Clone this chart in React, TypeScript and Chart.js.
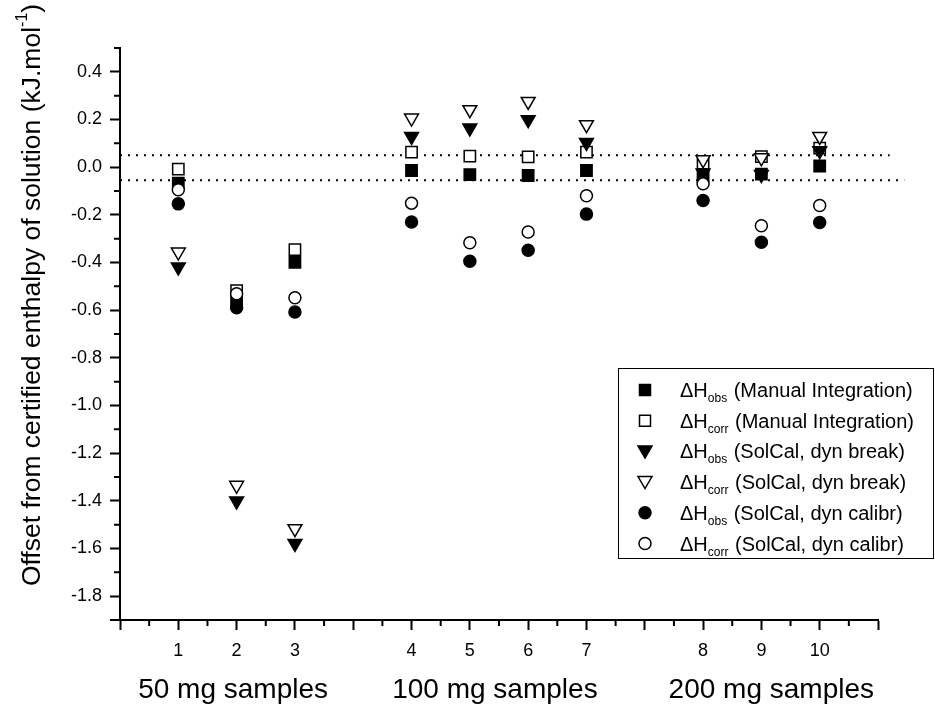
import React, { useEffect, useRef } from 'react';
import { Chart, registerables } from 'chart.js';

Chart.register(...registerables);

// ---------- data ----------
const SAMPLE_NUMBERS = ['1', '2', '3', '4', '5', '6', '7', '8', '9', '10'];
const SAMPLE_POSITIONS = [1, 2, 3, 5, 6, 7, 8, 10, 11, 12];
const GROUP_LABELS = ['50 mg samples', '100 mg samples', '200 mg samples'];
const GROUP_CENTERS = [1.94, 6.43, 11.17];
const Y_TICKS = [-1.8, -1.6, -1.4, -1.2, -1.0, -0.8, -0.6, -0.4, -0.2, 0.0, 0.2, 0.4];
const X_MIN = 0;
const X_MAX = 13;
const Y_MIN = -1.9;
const Y_MAX = 0.5;
const LIMIT_UPPER = 0.05;
const LIMIT_LOWER = -0.055;
const LIMIT_UPPER_END = 13.2;
const LIMIT_LOWER_END = 13.45;

const OBS_MANUAL = [-0.067, -0.569, -0.399, -0.014, -0.031, -0.035, -0.014, -0.039, -0.029, 0.005];
const CORR_MANUAL = [-0.008, -0.518, -0.346, 0.063, 0.046, 0.043, 0.063, 0.017, 0.044, 0.08];
const OBS_BREAK = [-0.419, -1.401, -1.579, 0.129, 0.164, 0.199, 0.104, -0.024, -0.031, 0.069];
const CORR_BREAK = [-0.356, -1.335, -1.517, 0.206, 0.241, 0.276, 0.178, 0.031, 0.039, 0.129];
const OBS_CALIBR = [-0.154, -0.59, -0.608, -0.23, -0.395, -0.349, -0.197, -0.14, -0.315, -0.232];
const CORR_CALIBR = [-0.095, -0.531, -0.548, -0.151, -0.317, -0.272, -0.12, -0.07, -0.246, -0.161];

const SERIES_SUBS = ['obs', 'corr', 'obs', 'corr', 'obs', 'corr'];
const SERIES_NAMES = [
  '(Manual Integration)',
  '(Manual Integration)',
  '(SolCal, dyn break)',
  '(SolCal, dyn break)',
  '(SolCal, dyn calibr)',
  '(SolCal, dyn calibr)',
];
const SERIES_VALUES = [OBS_MANUAL, CORR_MANUAL, OBS_BREAK, CORR_BREAK, OBS_CALIBR, CORR_CALIBR];
const SERIES_SHAPES = ['rect', 'rect', 'triangle', 'triangle', 'circle', 'circle'];
const SERIES_FILLED = [true, false, true, false, true, false];

const Y_TITLE_MAIN = 'Offset from certified enthalpy of solution (kJ.mol';
const Y_TITLE_SUP = '-1';
const Y_TITLE_END = ')';

const FONT = '"Liberation Sans", Arial, sans-serif';

function drawLegendMarker(ctx: CanvasRenderingContext2D, shape: string, x: number, y: number, filled: boolean) {
  ctx.beginPath();
  if (shape === 'rect') {
    ctx.rect(x - 5.5, y - 5.5, 11, 11);
  } else if (shape === 'triangle') {
    ctx.moveTo(x - 7, y - 5.5);
    ctx.lineTo(x + 7, y - 5.5);
    ctx.lineTo(x, y + 6.5);
    ctx.closePath();
  } else {
    ctx.arc(x, y, 6, 0, Math.PI * 2);
  }
  ctx.fillStyle = filled ? '#000' : '#fff';
  ctx.fill();
  ctx.lineWidth = 1.5;
  ctx.strokeStyle = '#000';
  ctx.stroke();
}

const decorPlugin = {
  id: 'decor',
  afterDraw(chart: any) {
    const ctx: CanvasRenderingContext2D = chart.ctx;
    const xs = chart.scales.x;
    const ys = chart.scales.y;
    const area = chart.chartArea;
    ctx.save();
    // minor ticks
    ctx.strokeStyle = '#000';
    ctx.lineWidth = 2;
    ctx.beginPath();
    for (let v = X_MIN + 0.5; v < X_MAX; v += 1) {
      const px = xs.getPixelForValue(v);
      ctx.moveTo(px, area.bottom);
      ctx.lineTo(px, area.bottom + 6);
    }
    for (let k = 0; k <= 12; k++) {
      const v = Y_MIN + k * 0.2;
      const py = ys.getPixelForValue(v);
      ctx.moveTo(area.left, py);
      ctx.lineTo(area.left - (k === 0 ? 10 : 6), py);
    }
    ctx.stroke();

    // group labels
    ctx.fillStyle = '#000';
    ctx.font = `28px ${FONT}`;
    ctx.textAlign = 'center';
    ctx.textBaseline = 'alphabetic';
    GROUP_LABELS.forEach((t, i) => {
      ctx.fillText(t, xs.getPixelForValue(GROUP_CENTERS[i]), 698);
    });

    // y title
    ctx.save();
    ctx.translate(33, 295);
    ctx.rotate(-Math.PI / 2);
    ctx.textAlign = 'left';
    ctx.textBaseline = 'middle';
    const mainFont = `26.5px ${FONT}`;
    const supFont = `16px ${FONT}`;
    ctx.font = mainFont;
    const w1 = ctx.measureText(Y_TITLE_MAIN).width;
    const w3 = ctx.measureText(Y_TITLE_END).width;
    ctx.font = supFont;
    const w2 = ctx.measureText(Y_TITLE_SUP).width;
    let cx = -(w1 + w2 + w3) / 2;
    ctx.font = mainFont;
    ctx.fillText(Y_TITLE_MAIN, cx, 0);
    cx += w1;
    ctx.font = supFont;
    ctx.fillText(Y_TITLE_SUP, cx, -10);
    cx += w2;
    ctx.font = mainFont;
    ctx.fillText(Y_TITLE_END, cx, 0);
    ctx.restore();

    // legend
    const bx = 618, by = 368, bw = 315, bh = 190;
    ctx.lineWidth = 1;
    ctx.strokeStyle = '#000';
    ctx.strokeRect(bx + 0.5, by + 0.5, bw, bh);
    for (let i = 0; i < 6; i++) {
      const ry = 390 + i * 30.7;
      drawLegendMarker(ctx, SERIES_SHAPES[i], 645, ry, SERIES_FILLED[i]);
      ctx.fillStyle = '#000';
      ctx.textAlign = 'left';
      ctx.textBaseline = 'alphabetic';
      ctx.font = `20px ${FONT}`;
      let tx = 680;
      const base = ry + 7;
      ctx.fillText('\u0394H', tx, base);
      tx += ctx.measureText('\u0394H').width;
      ctx.font = `12px ${FONT}`;
      ctx.fillText(SERIES_SUBS[i], tx, base + 5);
      tx += ctx.measureText(SERIES_SUBS[i]).width + 1;
      ctx.font = `20px ${FONT}`;
      ctx.fillText(' ' + SERIES_NAMES[i], tx, base);
    }
    ctx.restore();
  },
};

export default function App() {
  const canvasRef = useRef<HTMLCanvasElement | null>(null);

  useEffect(() => {
    document.body.style.margin = '0';
    const canvas = canvasRef.current;
    if (!canvas) return;

    const markerSets = SERIES_VALUES.map((vals, i) => ({
      type: 'line' as const,
      label: 'ΔH' + SERIES_SUBS[i] + ' ' + SERIES_NAMES[i],
      data: vals.map((v, j) => ({ x: SAMPLE_POSITIONS[j], y: v })),
      showLine: false,
      pointStyle: SERIES_SHAPES[i],
      pointRotation: SERIES_SHAPES[i] === 'triangle' ? 180 : 0,
      pointRadius: SERIES_SHAPES[i] === 'circle' ? 6 : 8,
      pointBorderWidth: 1.5,
      pointBorderColor: '#000',
      pointBackgroundColor: SERIES_FILLED[i] ? '#000' : '#fff',
      borderColor: '#000',
      order: 10 - i,
      clip: false as const,
    }));

    const limitSets = [
      { y: LIMIT_UPPER, end: LIMIT_UPPER_END },
      { y: LIMIT_LOWER, end: LIMIT_LOWER_END },
    ].map((l) => ({
      type: 'line' as const,
      label: 'limit',
      data: [
        { x: X_MIN, y: l.y },
        { x: l.end, y: l.y },
      ],
      showLine: true,
      borderColor: '#000',
      borderWidth: 2,
      borderDash: [2, 6],
      pointRadius: 0,
      order: 20,
      clip: false as const,
    }));

    const chart = new Chart(canvas, {
      type: 'line',
      data: { datasets: [...limitSets, ...markerSets] as any },
      options: {
        animation: false,
        responsive: false,
        events: [],
        layout: { padding: { top: 48, right: 57, bottom: 0, left: 0 } },
        plugins: { legend: { display: false }, tooltip: { enabled: false } },
        scales: {
          x: {
            type: 'linear',
            min: X_MIN,
            max: X_MAX,
            afterFit: (s: any) => {
              s.height = 86;
            },
            ticks: {
              stepSize: 1,
              autoSkip: false,
              maxRotation: 0,
              color: '#000',
              padding: 10,
              font: { family: FONT, size: 18 },
              callback: (value: any) => {
                const i = SAMPLE_POSITIONS.indexOf(Number(value));
                return i >= 0 ? SAMPLE_NUMBERS[i] : '';
              },
            },
            grid: {
              display: true,
              drawOnChartArea: false,
              drawTicks: true,
              tickLength: 10,
              tickWidth: 2,
              tickColor: '#000',
            },
            border: { display: true, color: '#000', width: 2 },
          },
          y: {
            type: 'linear',
            min: Y_MIN,
            max: Y_MAX,
            afterFit: (s: any) => {
              s.width = 120;
            },
            afterBuildTicks: (s: any) => {
              s.ticks = Y_TICKS.map((v) => ({ value: v }));
            },
            ticks: {
              color: '#000',
              padding: 8,
              font: { family: FONT, size: 18 },
              callback: (value: any) => Number(value).toFixed(1),
            },
            grid: {
              display: true,
              drawOnChartArea: false,
              drawTicks: true,
              tickLength: 10,
              tickWidth: 2,
              tickColor: '#000',
            },
            border: { display: true, color: '#000', width: 2 },
          },
        },
      },
      plugins: [decorPlugin],
    });

    return () => chart.destroy();
  }, []);

  return (
    <div style={{ position: 'fixed', left: 0, top: 0, width: 935, height: 706, background: '#fff' }}>
      <canvas ref={canvasRef} width={935} height={706} />
    </div>
  );
}
